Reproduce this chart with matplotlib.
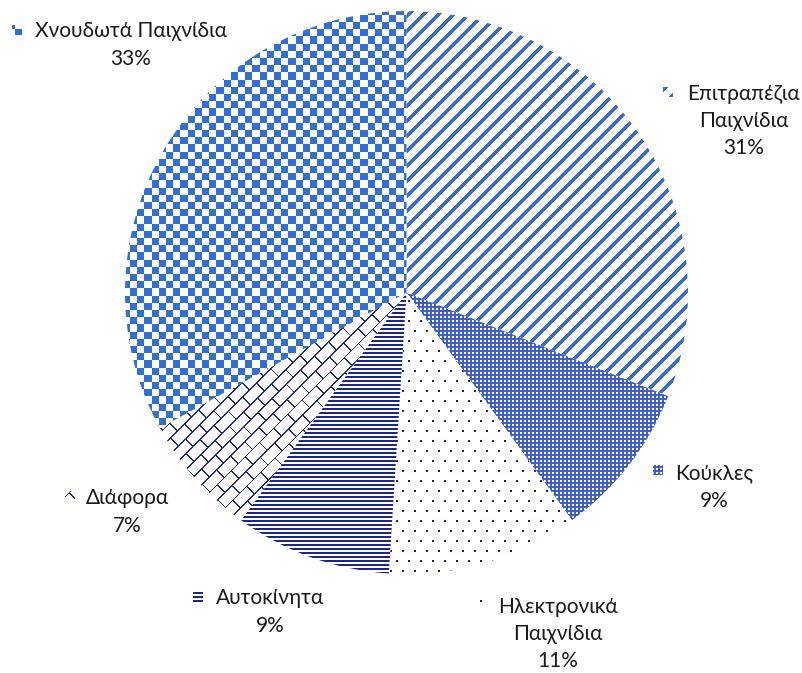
import numpy as np
import matplotlib
matplotlib.use('Agg')
import matplotlib.pyplot as plt
from matplotlib.patches import Rectangle

plt.rcParams['font.family'] = ['Lato', 'DejaVu Sans']

# data (clockwise from 12 o'clock)
labels = ['Επιτραπέζια\nΠαιχνίδια', 'Κούκλες', 'Ηλεκτρονικά\nΠαιχνίδια',
          'Αυτοκίνητα', 'Διάφορα', 'Χνουδωτά Παιχνίδια']
shares = [31, 9, 11, 9, 7, 33]
patterns = ['stripes', 'grid', 'dots', 'hlines', 'bricks', 'checker']

W, H = 803, 673
cx, cy, r = 406.5, H - 292.5, 281.5

# label centre (x, y from top) and legend-key position
label_pos = [(744, 121), (714, 487), (558, 634), (270, 612), (127, 512), (131, 45)]
key_pos = [(668, 92), (658, 470), (481, 605), (198, 597), (70, 496), (17, 30)]

yy, xx = np.mgrid[0:H, 0:W].astype(float)


def texture(kind):
    img = np.ones((H, W, 4))
    if kind == 'checker':
        mask = ((np.floor(xx / 7.2) + np.floor(yy / 7.2)) % 2) == 0
        col = (0.20, 0.43, 0.84)
    elif kind == 'stripes':
        mask = ((xx + yy) % 15) < 4.5
        col = (0.24, 0.42, 0.80)
    elif kind == 'grid':
        mask = ~(((xx % 4) < 1.5) & ((yy % 4) < 1.5))
        col = (0.24, 0.37, 0.80)
    elif kind == 'dots':
        row = np.floor(yy / 10)
        mask = (((xx + (row % 2) * 6) % 12) < 1.6) & ((yy % 10) < 1.6)
        col = (0.15, 0.15, 0.30)
    elif kind == 'hlines':
        mask = (yy % 4) < 2
        col = (0.12, 0.16, 0.52)
    else:  # bricks along "/" direction
        u = (xx - yy) / np.sqrt(2)
        v = (xx + yy) / np.sqrt(2)
        rowi = np.floor(v / 11)
        mask = ((v % 11) < 1.3) | (((u + (rowi % 2) * 10) % 20) < 1.3)
        col = (0.12, 0.16, 0.55)
    img[mask, 0] = col[0]
    img[mask, 1] = col[1]
    img[mask, 2] = col[2]
    return img


fig = plt.figure(figsize=(W / 100, H / 100), dpi=100)
ax = fig.add_axes([0, 0, 1, 1])
wedges, _ = ax.pie(shares, startangle=90, counterclock=False, center=(cx, cy), radius=r,
                   wedgeprops=dict(facecolor='white', edgecolor='none'))
ax.set_xlim(0, W)
ax.set_ylim(0, H)
ax.set_aspect('equal')
ax.axis('off')

for w, kind, lab, val, (lx, ly), (kx, ky) in zip(wedges, patterns, labels, shares, label_pos, key_pos):
    tex = texture(kind)
    im = ax.imshow(tex, extent=(0, W, 0, H), origin='upper', interpolation='nearest', zorder=1)
    im.set_clip_path(w)
    key = Rectangle((kx - 5, H - ky - 5), 10, 10, facecolor='none', edgecolor='none')
    ax.add_patch(key)
    im2 = ax.imshow(tex, extent=(0, W, 0, H), origin='upper', interpolation='nearest', zorder=2)
    im2.set_clip_path(key)
    ax.text(lx, H - ly, f'{lab}\n{val}%', ha='center', va='center', fontsize=15,
            linespacing=1.45, color='#1a1a1a', zorder=3)

ax.set_xlim(0, W)
ax.set_ylim(0, H)
fig.savefig('out.png', dpi=100)
